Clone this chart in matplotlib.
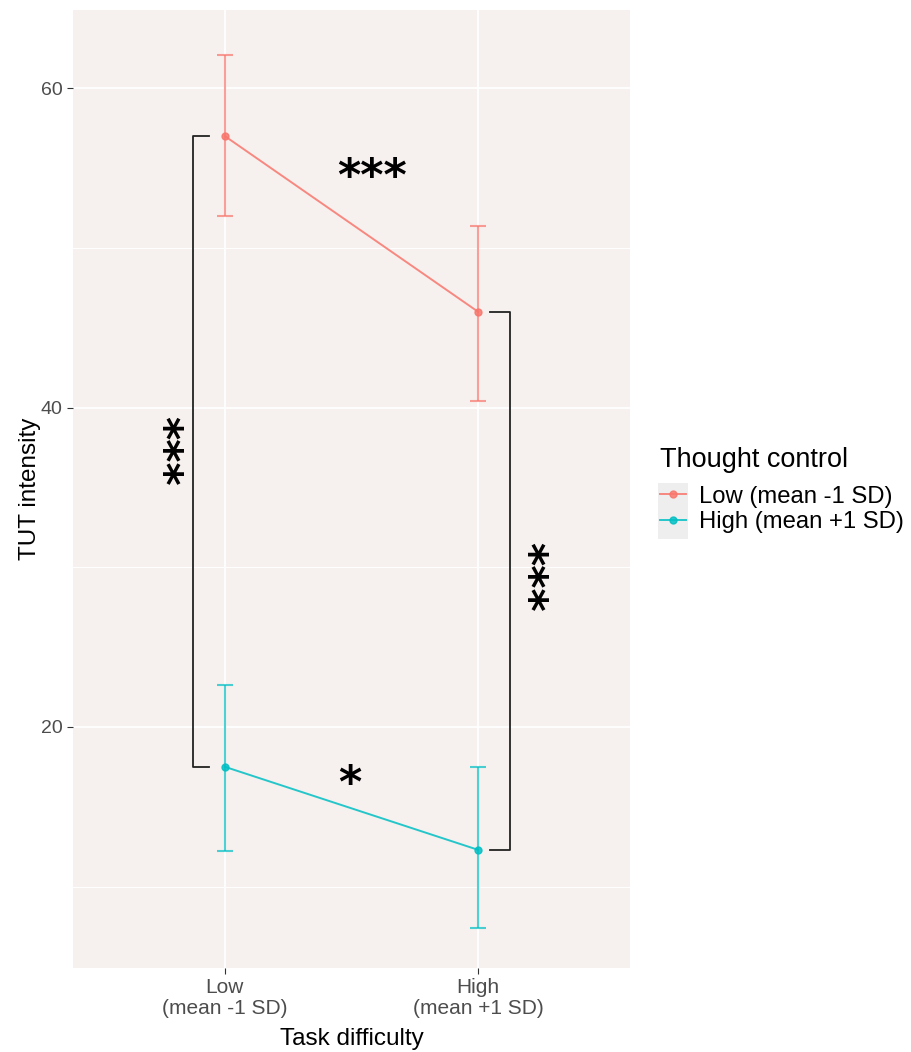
import matplotlib.pyplot as plt
from matplotlib.patches import Rectangle
import numpy as np

# data
difficulty = ["Low\n(mean -1 SD)", "High\n(mean +1 SD)"]
groups = ["Low (mean -1 SD)", "High (mean +1 SD)"]
means_low_ctrl = [57.0, 46.0]
lower_low_ctrl = [52.0, 40.4]
upper_low_ctrl = [62.1, 51.4]
means_high_ctrl = [17.5, 12.3]
lower_high_ctrl = [12.2, 7.4]
upper_high_ctrl = [22.6, 17.5]
colors = ["#F8766D", "#00BFC4"]

plt.rcParams['font.family'] = ['Liberation Sans', 'DejaVu Sans']

fig = plt.figure(figsize=(9.12, 10.52), dpi=100)
ax = fig.add_axes([73/912, 1-968/1052, (630-73)/912, (968-10)/1052])
ax.set_facecolor("#F6F0EE")

x = np.arange(1, len(difficulty) + 1)
series = [(means_low_ctrl, lower_low_ctrl, upper_low_ctrl),
          (means_high_ctrl, lower_high_ctrl, upper_high_ctrl)]
handles = []
for (m, lo, hi), c, lab in zip(series, colors, groups):
    m = np.array(m); lo = np.array(lo); hi = np.array(hi)
    ax.errorbar(x, m, yerr=[m - lo, hi - m], fmt='none', ecolor=c, elinewidth=1.5,
                capsize=6, capthick=1.5, alpha=0.7, zorder=3)
    h, = ax.plot(x, m, color=c, lw=1.4, marker='o', ms=5, alpha=0.85, zorder=4, label=lab)
    handles.append(h)

# significance brackets
ax.plot([0.937, 0.874, 0.874, 0.937], [means_low_ctrl[0], means_low_ctrl[0],
        means_high_ctrl[0], means_high_ctrl[0]], color="#222222", lw=1.3, zorder=2)
ax.plot([2.048, 2.127, 2.127, 2.048], [means_low_ctrl[1], means_low_ctrl[1],
        means_high_ctrl[1], means_high_ctrl[1]], color="#222222", lw=1.3, zorder=2)
star_kw = dict(fontsize=32, fontweight='bold', ha='center', va='center', color='black',
               family='DejaVu Sans')
ax.text(1.58, 54.4, "***", **star_kw)
ax.text(0.75, 37.3, "***", rotation=-90, **star_kw)
ax.text(2.19, 29.4, "***", rotation=-90, **star_kw)
ax.text(1.495, 16.4, "*", **star_kw)

ax.set_xlim(0.4, 2.6)
ax.set_ylim(4.9, 64.9)
ax.set_xticks(x)
ax.set_xticklabels(difficulty, fontsize=15, color="#4D4D4D", linespacing=1.1)
ax.set_yticks([20, 40, 60])
ax.set_yticks([10, 30, 50], minor=True)
ax.tick_params(axis='y', which='major', labelsize=14, colors="#333333", length=4, labelcolor="#4D4D4D")
ax.tick_params(axis='y', which='minor', length=0)
ax.tick_params(axis='x', length=4, colors="#333333", labelcolor="#4D4D4D")
ax.grid(which='major', color='white', lw=1.3)
ax.grid(which='minor', color='white', lw=0.7)
ax.set_axisbelow(True)
for s in ax.spines.values():
    s.set_visible(False)
ax.set_xlabel("Task difficulty", fontsize=17.5, labelpad=7)
ax.set_ylabel("TUT intensity", fontsize=17.5, labelpad=0)

# legend: title as separate text, grey key background
fig.text(660/912, 1-460/1052, "Thought control", fontsize=19.5, va='center', ha='left')
fig.patches.append(Rectangle((658/912, 1-539/1052), 30/912, 56/1052,
                             transform=fig.transFigure, facecolor="#EEEEEE",
                             edgecolor='none', zorder=0))
leg = fig.legend(handles=handles, labels=groups,
                 loc='upper left', bbox_to_anchor=(650/912, 1-476/1052),
                 frameon=False, fontsize=17.2, handlelength=1.1, borderaxespad=0,
                 handletextpad=0.55, labelspacing=0.15, borderpad=0.4)

fig.savefig("out.png", dpi=100)
